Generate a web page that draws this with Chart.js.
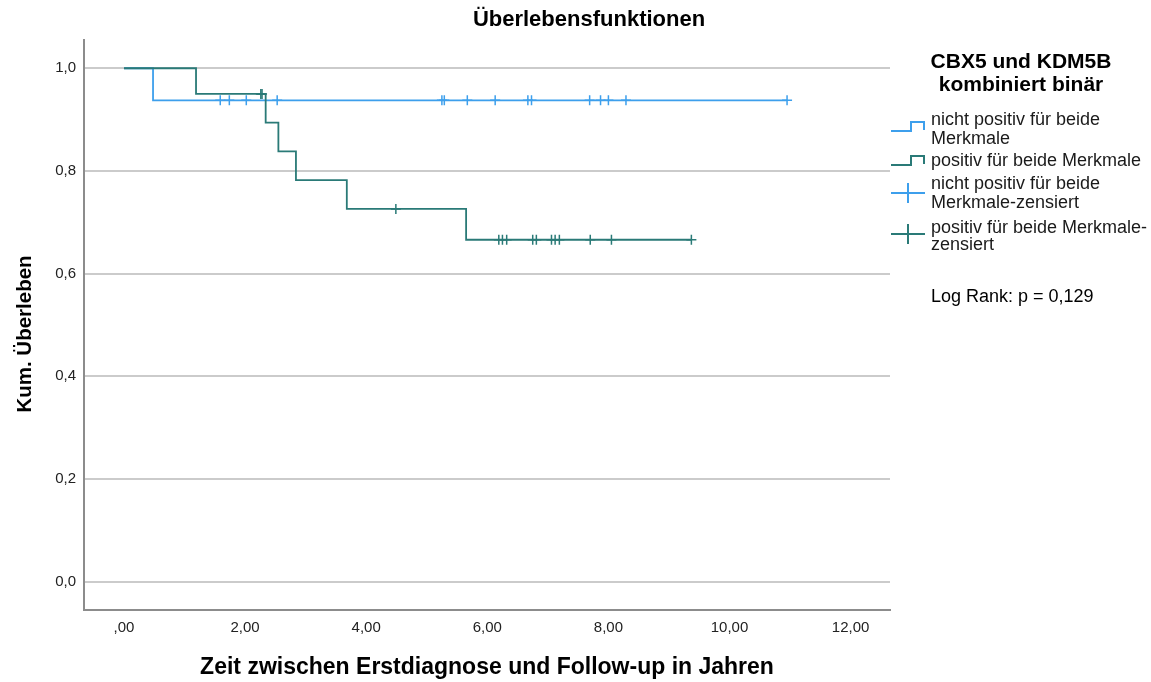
<!DOCTYPE html>
<html>
<head>
<meta charset="utf-8">
<script src="https://cdn.jsdelivr.net/npm/chart.js@4/dist/chart.umd.min.js"></script>
<style>
  html, body { margin: 0; padding: 0; background: #ffffff; }
  #wrap { width: 1151px; height: 682px; }
</style>
</head>
<body>
<div id="wrap"><canvas id="c" width="1151" height="682"></canvas></div>
<script>
// ---------- data ----------
const chartTitle = 'Überlebensfunktionen';
const xAxisTitle = 'Zeit zwischen Erstdiagnose und Follow-up in Jahren';
const yAxisTitle = 'Kum. Überleben';
const legendTitle = ['CBX5 und KDM5B', 'kombiniert binär'];
const legendEntries = [
  ['nicht positiv für beide', 'Merkmale'],
  ['positiv für beide Merkmale'],
  ['nicht positiv für beide', 'Merkmale-zensiert'],
  ['positiv für beide Merkmale-', 'zensiert']
];
const noteText = 'Log Rank: p = 0,129';

const xTickValues = [0, 2, 4, 6, 8, 10, 12];
const xTickLabels = [',00', '2,00', '4,00', '6,00', '8,00', '10,00', '12,00'];
const yTickValues = [0, 0.2, 0.4, 0.6, 0.8, 1.0];
const yTickLabels = ['0,0', '0,2', '0,4', '0,6', '0,8', '1,0'];

// group 1: nicht positiv für beide Merkmale
const blueStepTimes = [0, 0.48, 10.95];
const blueStepSurv = [1.0, 0.9375, 0.9375];
const blueCensorTimes = [1.59, 1.74, 2.02, 2.53, 5.25, 5.29, 5.67, 6.13, 6.67, 6.73, 7.69, 7.87, 8.00, 8.29, 10.95];

// group 2: positiv für beide Merkmale
const greenStepTimes = [0, 1.19, 2.34, 2.55, 2.84, 3.68, 5.65, 9.37];
const greenStepSurv = [1.0, 0.95, 0.894, 0.838, 0.782, 0.726, 0.666, 0.666];
const greenCensorTimes = [2.26, 2.28, 4.49, 6.19, 6.25, 6.32, 6.75, 6.81, 7.06, 7.12, 7.19, 7.70, 8.05, 9.37];

// ---------- helpers ----------
const BLUE = '#3d9fec';
const GREEN = '#2a7a77';
const FONT = '"Liberation Sans", Arial, Helvetica, sans-serif';

function stepPoints(times, surv) {
  return times.map((t, i) => ({ x: t, y: surv[i] }));
}
function survAt(times, surv, t) {
  let s = surv[0];
  for (let i = 0; i < times.length; i++) { if (times[i] <= t) s = surv[i]; }
  return s;
}
function censorPoints(cTimes, times, surv) {
  return cTimes.map(t => ({ x: t, y: survAt(times, surv, t) }));
}

// ---------- custom drawing (title, y title, legend, note) ----------
const decorPlugin = {
  id: 'decor',
  afterDraw(chart) {
    const ctx = chart.ctx;
    ctx.save();
    // chart title
    ctx.fillStyle = '#000';
    ctx.font = 'bold 22px ' + FONT;
    ctx.textAlign = 'center';
    ctx.textBaseline = 'middle';
    ctx.fillText(chartTitle, 589, 20);

    // y axis title
    ctx.save();
    ctx.translate(25, 334);
    ctx.rotate(-Math.PI / 2);
    ctx.font = 'bold 20.5px ' + FONT;
    ctx.fillText(yAxisTitle, 0, 0);
    ctx.restore();

    // legend title
    ctx.font = 'bold 21px ' + FONT;
    ctx.fillText(legendTitle[0], 1021, 62);
    ctx.fillText(legendTitle[1], 1021, 85);

    // legend entries
    ctx.font = '18px ' + FONT;
    ctx.textAlign = 'left';
    ctx.fillStyle = '#1a1a1a';
    const lineYs = [[120, 139], [161.5], [184, 203], [228, 245.5]];
    legendEntries.forEach((lines, i) => {
      lines.forEach((t, j) => ctx.fillText(t, 931, lineYs[i][j]));
    });

    // legend symbols
    ctx.lineWidth = 2;
    function stepSym(color, low, high) {
      ctx.strokeStyle = color;
      ctx.beginPath();
      ctx.moveTo(891, low);
      ctx.lineTo(911, low);
      ctx.lineTo(911, high);
      ctx.lineTo(924, high);
      ctx.lineTo(924, low - 1);
      ctx.stroke();
    }
    function crossSym(color, y) {
      ctx.strokeStyle = color;
      ctx.beginPath();
      ctx.moveTo(891, y);
      ctx.lineTo(925, y);
      ctx.moveTo(908, y - 10);
      ctx.lineTo(908, y + 10);
      ctx.stroke();
    }
    stepSym(BLUE, 131, 122);
    stepSym(GREEN, 165, 156);
    crossSym(BLUE, 193);
    crossSym(GREEN, 234);

    // note
    ctx.fillStyle = '#000';
    ctx.font = '18px ' + FONT;
    ctx.fillText(noteText, 931, 297);
    ctx.restore();
  }
};

// ---------- chart ----------
const ctx = document.getElementById('c').getContext('2d');
new Chart(ctx, {
  type: 'scatter',
  data: {
    datasets: [
      {
        label: legendEntries[0].join(' '),
        data: stepPoints(blueStepTimes, blueStepSurv),
        showLine: true, stepped: 'before',
        borderColor: BLUE, borderWidth: 1.8, pointRadius: 0, fill: false, order: 3
      },
      {
        label: legendEntries[1].join(' '),
        data: stepPoints(greenStepTimes, greenStepSurv),
        showLine: true, stepped: 'before',
        borderColor: GREEN, borderWidth: 1.8, pointRadius: 0, fill: false, order: 1
      },
      {
        label: legendEntries[2].join(' '),
        data: censorPoints(blueCensorTimes, blueStepTimes, blueStepSurv),
        showLine: false, pointStyle: 'cross', pointRadius: 5,
        borderColor: BLUE, pointBorderWidth: 1.5, order: 2
      },
      {
        label: legendEntries[3].join(' '),
        data: censorPoints(greenCensorTimes, greenStepTimes, greenStepSurv),
        showLine: false, pointStyle: 'cross', pointRadius: 5,
        borderColor: GREEN, pointBorderWidth: 1.5, order: 0
      }
    ]
  },
  options: {
    responsive: false,
    animation: false,
    devicePixelRatio: 1,
    layout: { padding: { left: 0, top: 40, right: 261, bottom: 0 } },
    plugins: {
      legend: { display: false },
      title: { display: false },
      tooltip: { enabled: false }
    },
    scales: {
      x: {
        type: 'linear',
        min: -0.66, max: 12.65,
        afterFit: s => { s.height = 72; },
        afterBuildTicks: s => { s.ticks = xTickValues.map(v => ({ value: v })); },
        ticks: {
          padding: 9,
          color: '#222',
          font: { family: FONT, size: 15 },
          callback: (v, i) => xTickLabels[i]
        },
        grid: { display: true, color: 'rgba(0,0,0,0)', drawTicks: false },
        border: { display: true, color: '#8c8c8c', width: 2 },
        title: {
          display: true,
          text: xAxisTitle,
          color: '#000',
          font: { family: FONT, size: 23, weight: 'bold', lineHeight: 1.2 },
          padding: { top: 0, bottom: 1 }
        }
      },
      y: {
        type: 'linear',
        min: -0.055, max: 1.055,
        afterFit: s => { s.width = 84; },
        afterBuildTicks: s => { s.ticks = yTickValues.map(v => ({ value: v })); },
        ticks: {
          padding: 8,
          color: '#222',
          font: { family: FONT, size: 15 },
          callback: (v, i) => yTickLabels[i]
        },
        grid: { display: true, color: '#cbcbcb', lineWidth: 2, drawTicks: false },
        border: { display: true, color: '#8c8c8c', width: 2 }
      }
    }
  },
  plugins: [decorPlugin]
});
</script>
</body>
</html>
